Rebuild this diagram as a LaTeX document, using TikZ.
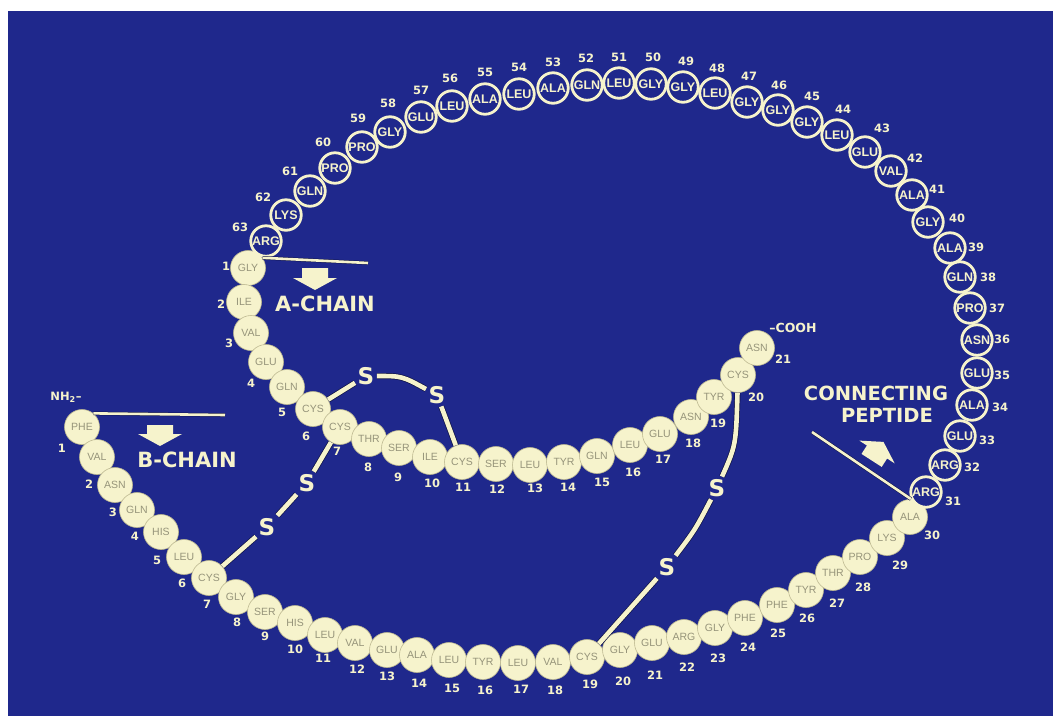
\documentclass[tikz,border=0pt]{standalone}
\usepackage{fontspec}
\setmainfont{DejaVu Sans}
\newfontfamily\resfont{Liberation Sans}
\definecolor{bgblue}{RGB}{31,40,140}
\definecolor{cream}{RGB}{246,243,204}
\definecolor{creamdark}{RGB}{190,186,146}
\definecolor{resgray}{RGB}{150,148,122}
\definecolor{darkline}{RGB}{16,20,70}

\begin{document}
\begin{tikzpicture}[x=1pt,y=-1pt,
  fres/.style={circle,fill=cream,draw=creamdark,line width=0.6pt,minimum size=35pt,inner sep=0pt,text=resgray,font=\resfont\fontsize{10.5}{10.5}\selectfont},
  ores/.style={circle,fill=bgblue,draw=cream,line width=2.8pt,minimum size=30.5pt,inner sep=0pt,text=cream,font=\resfont\bfseries\fontsize{12.5}{12.5}\selectfont},
  num/.style={text=cream,inner sep=0pt,font=\bfseries\fontsize{11.5}{11.5}\selectfont},
  sulf/.style={text=cream,inner sep=2.5pt,font=\bfseries\fontsize{23}{23}\selectfont},
  ssbond/.style={draw=darkline,double=cream,double distance=4.6pt,line width=0.7pt},
  tag/.style={draw=darkline,double=cream,double distance=2.6pt,line width=0.5pt},
  chainlab/.style={text=cream,inner sep=0pt,font=\bfseries\fontsize{21}{21}\selectfont}]
\useasboundingbox (0,0) rectangle (1053,716);
\fill[white] (0,0) rectangle (1053,716);
\fill[bgblue] (8,11) rectangle (1053,716);

% B-chain
\node[fres] (b1) at (82,427) {PHE}; \node[num] (nb1) at (62,448) {1};
\node[fres] (b2) at (97,457) {VAL}; \node[num] (nb2) at (89,484) {2};
\node[fres] (b3) at (115,485) {ASN}; \node[num] (nb3) at (113,512) {3};
\node[fres] (b4) at (137,510) {GLN}; \node[num] (nb4) at (135,536) {4};
\node[fres] (b5) at (161,532) {HIS}; \node[num] (nb5) at (157,560) {5};
\node[fres] (b6) at (184,557) {LEU}; \node[num] (nb6) at (182,583) {6};
\node[fres] (b7) at (209,578) {CYS}; \node[num] (nb7) at (207,604) {7};
\node[fres] (b8) at (236,597) {GLY}; \node[num] (nb8) at (237,622) {8};
\node[fres] (b9) at (265,612) {SER}; \node[num] (nb9) at (265,636) {9};
\node[fres] (b10) at (295,623) {HIS}; \node[num] (nb10) at (295,649) {10};
\node[fres] (b11) at (325,635) {LEU}; \node[num] (nb11) at (323,658) {11};
\node[fres] (b12) at (355,643) {VAL}; \node[num] (nb12) at (357,669) {12};
\node[fres] (b13) at (387,650) {GLU}; \node[num] (nb13) at (387,676) {13};
\node[fres] (b14) at (417,655) {ALA}; \node[num] (nb14) at (419,683) {14};
\node[fres] (b15) at (449,660) {LEU}; \node[num] (nb15) at (452,688) {15};
\node[fres] (b16) at (483,662) {TYR}; \node[num] (nb16) at (485,690) {16};
\node[fres] (b17) at (518,663) {LEU}; \node[num] (nb17) at (521,689) {17};
\node[fres] (b18) at (553,662) {VAL}; \node[num] (nb18) at (555,690) {18};
\node[fres] (b19) at (587,657) {CYS}; \node[num] (nb19) at (590,684) {19};
\node[fres] (b20) at (620,650) {GLY}; \node[num] (nb20) at (623,681) {20};
\node[fres] (b21) at (652,643) {GLU}; \node[num] (nb21) at (655,675) {21};
\node[fres] (b22) at (684,637) {ARG}; \node[num] (nb22) at (687,667) {22};
\node[fres] (b23) at (715,628) {GLY}; \node[num] (nb23) at (718,658) {23};
\node[fres] (b24) at (745,618) {PHE}; \node[num] (nb24) at (748,647) {24};
\node[fres] (b25) at (777,605) {PHE}; \node[num] (nb25) at (778,633) {25};
\node[fres] (b26) at (806,590) {TYR}; \node[num] (nb26) at (807,618) {26};
\node[fres] (b27) at (833,573) {THR}; \node[num] (nb27) at (837,603) {27};
\node[fres] (b28) at (860,557) {PRO}; \node[num] (nb28) at (863,587) {28};
\node[fres] (b29) at (887,538) {LYS}; \node[num] (nb29) at (900,565) {29};
\node[fres] (b30) at (910,517) {ALA}; \node[num] (nb30) at (932,535) {30};

% A-chain
\node[fres] (a1) at (248,268) {GLY}; \node[num] (na1) at (226,266) {1};
\node[fres] (a2) at (244,302) {ILE}; \node[num] (na2) at (221,304) {2};
\node[fres] (a3) at (251,333) {VAL}; \node[num] (na3) at (229,343) {3};
\node[fres] (a4) at (266,362) {GLU}; \node[num] (na4) at (251,383) {4};
\node[fres] (a5) at (287,387) {GLN}; \node[num] (na5) at (282,412) {5};
\node[fres] (a6) at (313,409) {CYS}; \node[num] (na6) at (306,436) {6};
\node[fres] (a7) at (340,427) {CYS}; \node[num] (na7) at (337,451) {7};
\node[fres] (a8) at (369,439) {THR}; \node[num] (na8) at (368,467) {8};
\node[fres] (a9) at (399,448) {SER}; \node[num] (na9) at (398,477) {9};
\node[fres] (a10) at (430,457) {ILE}; \node[num] (na10) at (432,483) {10};
\node[fres] (a11) at (462,462) {CYS}; \node[num] (na11) at (463,487) {11};
\node[fres] (a12) at (496,464) {SER}; \node[num] (na12) at (497,489) {12};
\node[fres] (a13) at (530,465) {LEU}; \node[num] (na13) at (535,488) {13};
\node[fres] (a14) at (564,462) {TYR}; \node[num] (na14) at (568,487) {14};
\node[fres] (a15) at (597,456) {GLN}; \node[num] (na15) at (602,482) {15};
\node[fres] (a16) at (630,445) {LEU}; \node[num] (na16) at (633,472) {16};
\node[fres] (a17) at (660,434) {GLU}; \node[num] (na17) at (663,459) {17};
\node[fres] (a18) at (691,417) {ASN}; \node[num] (na18) at (693,443) {18};
\node[fres] (a19) at (714,397) {TYR}; \node[num] (na19) at (718,423) {19};
\node[fres] (a20) at (738,375) {CYS}; \node[num] (na20) at (756,397) {20};
\node[fres] (a21) at (757,348) {ASN}; \node[num] (na21) at (783,359) {21};

% connecting peptide
\node[ores] (c31) at (926,492) {ARG}; \node[num] (nc31) at (953,501) {31};
\node[ores] (c32) at (945,465) {ARG}; \node[num] (nc32) at (972,467) {32};
\node[ores] (c33) at (960,436) {GLU}; \node[num] (nc33) at (987,440) {33};
\node[ores] (c34) at (972,405) {ALA}; \node[num] (nc34) at (1000,407) {34};
\node[ores] (c35) at (977,373) {GLU}; \node[num] (nc35) at (1002,375) {35};
\node[ores] (c36) at (977,340) {ASN}; \node[num] (nc36) at (1002,339) {36};
\node[ores] (c37) at (970,308) {PRO}; \node[num] (nc37) at (997,308) {37};
\node[ores] (c38) at (960,277) {GLN}; \node[num] (nc38) at (988,277) {38};
\node[ores] (c39) at (950,248) {ALA}; \node[num] (nc39) at (976,247) {39};
\node[ores] (c40) at (928,222) {GLY}; \node[num] (nc40) at (957,218) {40};
\node[ores] (c41) at (912,195) {ALA}; \node[num] (nc41) at (937,189) {41};
\node[ores] (c42) at (891,171) {VAL}; \node[num] (nc42) at (915,158) {42};
\node[ores] (c43) at (865,152) {GLU}; \node[num] (nc43) at (882,128) {43};
\node[ores] (c44) at (837,135) {LEU}; \node[num] (nc44) at (843,109) {44};
\node[ores] (c45) at (807,122) {GLY}; \node[num] (nc45) at (812,96) {45};
\node[ores] (c46) at (778,110) {GLY}; \node[num] (nc46) at (779,85) {46};
\node[ores] (c47) at (747,102) {GLY}; \node[num] (nc47) at (749,76) {47};
\node[ores] (c48) at (715,93) {LEU}; \node[num] (nc48) at (717,68) {48};
\node[ores] (c49) at (683,87) {GLY}; \node[num] (nc49) at (686,61) {49};
\node[ores] (c50) at (651,84) {GLY}; \node[num] (nc50) at (653,57) {50};
\node[ores] (c51) at (619,83) {LEU}; \node[num] (nc51) at (619,57) {51};
\node[ores] (c52) at (587,85) {GLN}; \node[num] (nc52) at (586,58) {52};
\node[ores] (c53) at (553,88) {ALA}; \node[num] (nc53) at (553,62) {53};
\node[ores] (c54) at (519,94) {LEU}; \node[num] (nc54) at (519,67) {54};
\node[ores] (c55) at (485,99) {ALA}; \node[num] (nc55) at (485,72) {55};
\node[ores] (c56) at (452,106) {LEU}; \node[num] (nc56) at (450,78) {56};
\node[ores] (c57) at (421,117) {GLU}; \node[num] (nc57) at (421,90) {57};
\node[ores] (c58) at (390,132) {GLY}; \node[num] (nc58) at (388,103) {58};
\node[ores] (c59) at (362,147) {PRO}; \node[num] (nc59) at (358,118) {59};
\node[ores] (c60) at (335,168) {PRO}; \node[num] (nc60) at (323,142) {60};
\node[ores] (c61) at (310,191) {GLN}; \node[num] (nc61) at (290,171) {61};
\node[ores] (c62) at (286,215) {LYS}; \node[num] (nc62) at (263,197) {62};
\node[ores] (c63) at (266,241) {ARG}; \node[num] (nc63) at (240,227) {63};

% disulfide bridges
\node[sulf] (s1) at (366,376) {S};
\node[sulf] (s2) at (437,395) {S};
\node[sulf] (s3) at (307,483) {S};
\node[sulf] (s4) at (267,527) {S};
\node[sulf] (s5) at (717,488) {S};
\node[sulf] (s6) at (667,567) {S};
\draw[ssbond] (a6) -- (s1);
\draw[ssbond] (s1) .. controls (402,376) .. (s2);
\draw[ssbond] (s2) -- (a11);
\draw[ssbond] (a7) -- (s3);
\draw[ssbond] (s3) -- (s4);
\draw[ssbond] (s4) -- (b7);
\draw[ssbond] (a20) .. controls (736,445) .. (s5);
\draw[ssbond] (s5) .. controls (695,530) .. (s6);
\draw[ssbond] (s6) -- (b19);

% labels
\coordinate (atail) at (368,263);
\coordinate (btail) at (225,415);
\coordinate (ctail) at (812,432);
\draw[tag] (a1.35) -- (atail);
\draw[tag] (b1.50) -- (btail);
\draw[tag] (ctail) -- (c31.205);
\fill[cream] (302,268) -- (328,268) -- (328,278) -- (337,278) -- (315,290) -- (293,278) -- (302,278) -- cycle;
\fill[cream] (147,425) -- (173,425) -- (173,434) -- (182,434) -- (160,446) -- (138,434) -- (147,434) -- cycle;
\fill[cream] (861.5,453.9) -- (881.7,466.9) -- (887.1,458.5) -- (894.7,463.4) -- (883.5,441.9) -- (859.3,440.6) -- (866.9,445.5) -- cycle;
\node[chainlab] (alab) at (325,304) {A-CHAIN};
\node[chainlab] (blab) at (187,460) {B-CHAIN};
\node[chainlab,font=\bfseries\fontsize{19.5}{19.5}\selectfont] (clab) at (876,393) {CONNECTING};
\node[chainlab,font=\bfseries\fontsize{19.5}{19.5}\selectfont] (plab) at (887,415) {PEPTIDE};
\node[num,font=\bfseries\fontsize{11.5}{11.5}\selectfont] (nh2) at (66,397) {NH\textsubscript{2}–};
\node[num,font=\bfseries\fontsize{12.5}{12.5}\selectfont] (cooh) at (793,328) {–COOH};
\end{tikzpicture}
\end{document}
